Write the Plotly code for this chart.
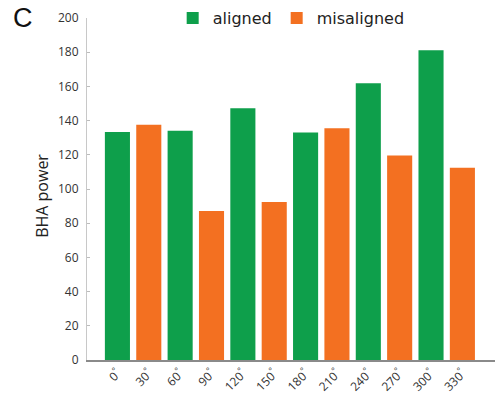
import plotly.graph_objects as go

# Stimulus orientation (degrees) and BHA power per condition
angles = ["0", "30", "60", "90", "120", "150", "180", "210", "240", "270", "300", "330"]
aligned_angles = ["0", "60", "120", "180", "240", "300"]
aligned_power = [133.3, 134.1, 147.2, 133.0, 161.9, 181.2]
misaligned_angles = ["30", "90", "150", "210", "270", "330"]
misaligned_power = [137.6, 87.2, 92.4, 135.5, 119.6, 112.5]
tick_labels = [a + "<sup>°</sup>" for a in angles]

GREEN = "#0e9f4b"
ORANGE = "#f37021"

fig = go.Figure()
fig.add_trace(go.Bar(x=aligned_angles, y=aligned_power, name="aligned",
                     marker=dict(color=GREEN, line=dict(width=0))))
fig.add_trace(go.Bar(x=misaligned_angles, y=misaligned_power, name="misaligned",
                     marker=dict(color=ORANGE, line=dict(width=0))))

fig.update_layout(
    width=498, height=394,
    margin=dict(l=87, r=3, t=17.5, b=34, autoexpand=False),
    paper_bgcolor="white", plot_bgcolor="white",
    barmode="overlay", bargap=0.2,
    font=dict(family="Open Sans", color="#333333", size=12),
    showlegend=True,
    legend=dict(orientation="h", x=0.21, y=1.0, xanchor="left", yanchor="middle",
                font=dict(family="DejaVu Sans", size=16, color="#222222"),
                bgcolor="rgba(0,0,0,0)", itemwidth=30),
    xaxis=dict(
        type="category", categoryorder="array", categoryarray=angles,
        tickmode="array", tickvals=angles, ticktext=tick_labels,
        range=[-0.97, 12.04], tickangle=-45, ticks="",
        showline=True, linecolor="#8a8a8a", linewidth=2,
        showgrid=False, zeroline=False, automargin=False,
        tickfont=dict(size=12, color="#333333"),
    ),
    yaxis=dict(
        range=[0, 200], dtick=20, tick0=0,
        showline=True, linecolor="#c8c8c8", linewidth=1,
        ticks="inside", ticklen=3, tickcolor="#bdbdbd",
        showgrid=False, zeroline=False, automargin=False,
        ticklabelstandoff=5,
        tickfont=dict(size=12, color="#333333"),
    ),
    annotations=[
        dict(text="BHA power", textangle=-90, xref="paper", yref="paper",
             x=(42 - 87) / 408, y=0.48, xanchor="center", yanchor="middle",
             showarrow=False, font=dict(family="Open Sans", size=16, color="#222222")),
        dict(text="C", xref="paper", yref="paper",
             x=(23 - 87) / 408, y=1.0, xanchor="center", yanchor="middle",
             showarrow=False, font=dict(family="Liberation Sans", size=27, color="#111111")),
    ],
)

fig.write_html("out.html")
